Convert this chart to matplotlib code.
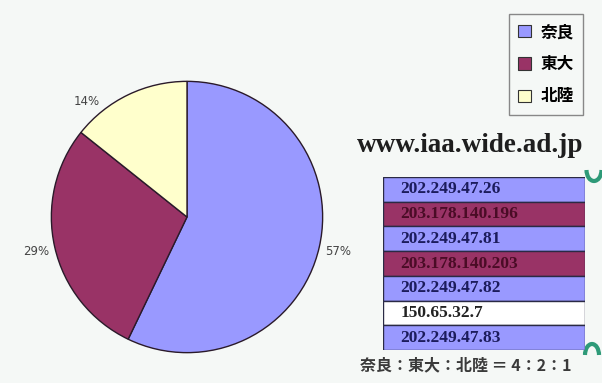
import matplotlib
matplotlib.use("Agg")
import matplotlib.pyplot as plt
from matplotlib.patches import Patch, Arc

plt.rcParams['font.family'] = ['Noto Sans CJK JP', 'DejaVu Sans']

# ---- data ----
regions = ['奈良', '東大', '北陸']
region_values = [4, 2, 1]
region_colors = ['#9999ff', '#993366', '#ffffcc']

site_title = 'www.iaa.wide.ad.jp'
ip_addresses = ['202.249.47.26', '203.178.140.196', '202.249.47.81',
                '203.178.140.203', '202.249.47.82', '150.65.32.7',
                '202.249.47.83']
ip_regions = ['奈良', '東大', '奈良', '東大', '奈良', '北陸', '奈良']
ratio_text = '奈良：東大：北陸 ＝ 4：2：1'

row_fill = {'奈良': '#9999ff', '東大': '#993366', '北陸': '#ffffff'}
row_text = {'奈良': '#1c1c5c', '東大': '#4a0c26', '北陸': '#222222'}

BG = '#f5f8f6'
W, H = 602, 383
fig = plt.figure(figsize=(W / 100, H / 100), dpi=100, facecolor=BG)

def px_axes(x0, y0, x1, y1):
    return fig.add_axes([x0 / W, 1 - y1 / H, (x1 - x0) / W, (y1 - y0) / H])

# ---- pie ----
cx, cy, r = 187, 217, 137
pax = px_axes(cx - r, cy - r, cx + r, cy + r)
pax.set_facecolor('none')
wedges, texts, autotexts = pax.pie(
    region_values, colors=region_colors, startangle=90, counterclock=False,
    autopct='%.0f%%', pctdistance=1.14,
    wedgeprops=dict(edgecolor='#2a1a2a', linewidth=1.0),
    textprops=dict(fontsize=8.5, color='#444444', family='DejaVu Sans'))
pax.set_xlim(-1.01, 1.01)
pax.set_ylim(-1.01, 1.01)
for t in autotexts:
    t.set_clip_on(False)
# small slice label sits up-left of the wedge, as in the original
autotexts[2].set_position((-0.74, 0.85))

# ---- legend ----
handles = [Patch(facecolor=c, edgecolor='#333333', linewidth=0.8) for c in region_colors]
fig.legend(handles, regions, loc='upper left',
           bbox_to_anchor=(509 / W, 1 - 14 / H), frameon=True, fancybox=False,
           edgecolor='#888888', facecolor=BG, framealpha=1,
           handlelength=0.75, handleheight=0.75, handletextpad=0.6,
           labelspacing=0.85, borderpad=0.55, borderaxespad=0,
           prop=dict(size=12, weight='bold'))

# ---- overlay axes for text ----
ov = fig.add_axes([0, 0, 1, 1])
ov.set_xlim(0, W)
ov.set_ylim(H, 0)
ov.axis('off')
ov.patch.set_alpha(0)

ov.text(470, 146, site_title, ha='center', va='center', fontsize=19.5,
        family='Liberation Serif', weight='bold', color='#1e1e1e')
ov.text(466, 365, ratio_text, ha='center', va='center', fontsize=11.5,
        weight='bold', color='#3a3a3a')

# green brackets
ov.add_patch(Arc((594, 170), 15, 22, theta1=0, theta2=180, color='#2e9a78', lw=3))
ov.add_patch(Arc((592, 355), 14, 22, theta1=180, theta2=360, color='#2e9a78', lw=3))

# ---- IP table ----
tax = px_axes(383, 177, 585, 350)
n = len(ip_addresses)
tax.barh(range(n), [1] * n, height=1, left=0,
         color=[row_fill[g] for g in ip_regions],
         edgecolor='#2a2a44', linewidth=1.0)
tax.set_xlim(0, 1)
tax.set_ylim(n - 0.5, -0.5)
tax.axis('off')
for i, (ip, g) in enumerate(zip(ip_addresses, ip_regions)):
    tax.text(0.085, i, ip, ha='left', va='center', fontsize=12.5,
             family='Liberation Serif', weight='bold', color=row_text[g])

fig.savefig('out.png', dpi=100, facecolor=BG)
